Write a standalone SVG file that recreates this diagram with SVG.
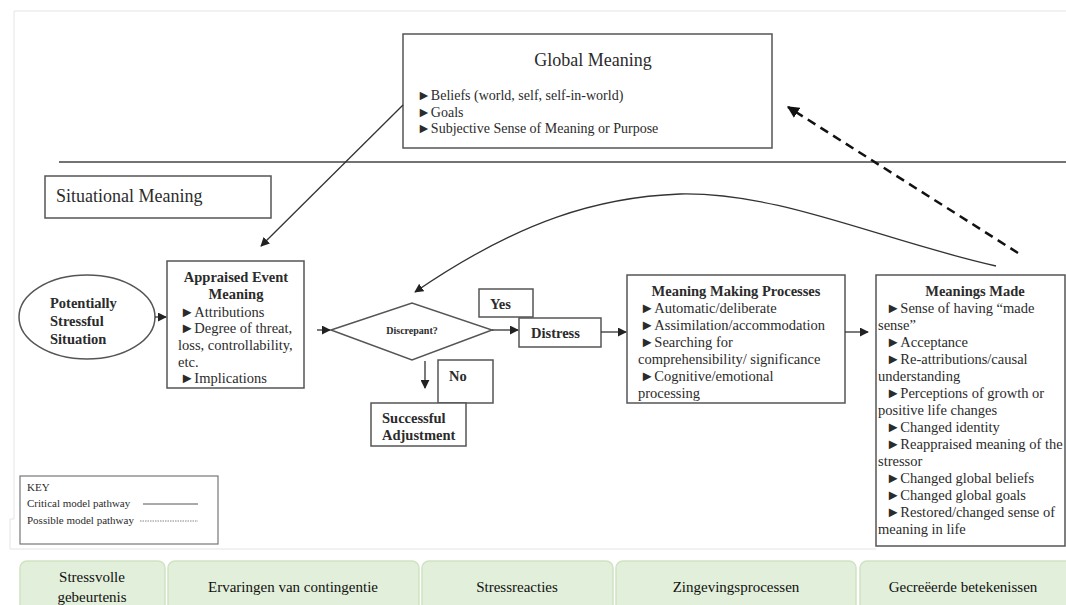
<svg xmlns="http://www.w3.org/2000/svg" width="1066" height="605" viewBox="0 0 1066 605">
<style>
text{font-family:"Liberation Serif","DejaVu Serif",serif;fill:#2b2b2b}
.box{fill:#fff;stroke:#555;stroke-width:1.5}
.b{font-weight:bold}
.t15{font-size:14.5px}
.t14{font-size:14px}
.ln{stroke:#333;stroke-width:1.3;fill:none}
.grn{fill:#e2efda;stroke:#cfe3c2;stroke-width:1.5}
.g{font-size:15px;text-anchor:middle;fill:#111}
.faint{stroke:#e4e4e4;stroke-width:1;fill:none}
.k{font-size:11px}
</style>
<defs>
<marker id="ah" viewBox="0 0 10 10" refX="9" refY="5" markerWidth="9" markerHeight="9" markerUnits="userSpaceOnUse" orient="auto">
<path d="M0,0 L10,5 L0,10 z" fill="#222"/>
</marker>
<marker id="ahd" viewBox="0 0 10 10" refX="9" refY="5" markerWidth="12" markerHeight="12" markerUnits="userSpaceOnUse" orient="auto">
<path d="M0,0 L10,5 L0,10 z" fill="#111"/>
</marker>
</defs>
<rect width="1066" height="605" fill="#fff"/>
<path class="faint" d="M14,11 H1066 M14,11 V519 H10 V549 H876"/>
<line x1="59" y1="162" x2="1066" y2="162" stroke="#444" stroke-width="1.3"/>

<g id="global-meaning">
<rect class="box" x="403" y="34" width="369" height="114"/>
<text x="593" y="66" font-size="18" text-anchor="middle">Global Meaning</text>
<text x="417" y="100" class="t14">►Beliefs (world, self, self-in-world)</text>
<text x="417" y="117" class="t14">►Goals</text>
<text x="417" y="133" class="t14">►Subjective Sense of Meaning or Purpose</text>
</g>

<g id="situational-meaning">
<rect class="box" x="45" y="176" width="226" height="42"/>
<text x="56" y="202" font-size="18">Situational Meaning</text>
</g>

<g id="stressful-situation">
<ellipse class="box" cx="87" cy="317" rx="68" ry="42"/>
<text class="b t15" x="50" y="308">Potentially</text>
<text class="b t15" x="50" y="326">Stressful</text>
<text class="b t15" x="50" y="344">Situation</text>
</g>

<g id="appraised-event-meaning">
<rect class="box" x="167" y="261" width="137" height="127"/>
<text class="b t15" x="236" y="282" text-anchor="middle">Appraised Event</text>
<text class="b t15" x="236" y="299" text-anchor="middle">Meaning</text>
<text class="t15" x="180" y="317">►Attributions</text>
<text class="t15" x="180" y="333">►Degree of threat,</text>
<text class="t15" x="178" y="350">loss, controllability,</text>
<text class="t15" x="178" y="367">etc.</text>
<text class="t15" x="180" y="383">►Implications</text>
</g>

<g id="discrepant">
<polygon class="box" points="331,330 412,303 492,330 412,360"/>
<text class="b" x="412" y="334" font-size="10" text-anchor="middle">Discrepant?</text>
</g>

<g id="yes">
<rect class="box" x="479" y="289" width="54" height="28"/>
<text class="b t15" x="490" y="309">Yes</text>
</g>

<g id="distress">
<rect class="box" x="519" y="318" width="82" height="29"/>
<text class="b t15" x="531" y="338">Distress</text>
</g>

<g id="no">
<rect class="box" x="438" y="360" width="55" height="43"/>
<text class="b t15" x="449" y="381">No</text>
</g>

<g id="successful-adjustment">
<rect class="box" x="371" y="403" width="95" height="43"/>
<text class="b t15" x="382" y="423">Successful</text>
<text class="b t15" x="382" y="440">Adjustment</text>
</g>

<g id="meaning-making-processes">
<rect class="box" x="627" y="275" width="218" height="128"/>
<text class="b t15" x="736" y="296" text-anchor="middle">Meaning Making Processes</text>
<text class="t15" x="640" y="313">►Automatic/deliberate</text>
<text class="t15" x="640" y="330">►Assimilation/accommodation</text>
<text class="t15" x="640" y="347">►Searching for</text>
<text class="t15" x="638" y="364">comprehensibility/ significance</text>
<text class="t15" x="640" y="381">►Cognitive/emotional</text>
<text class="t15" x="638" y="398">processing</text>
</g>

<g id="meanings-made">
<rect class="box" x="876" y="275" width="189" height="271"/>
<text class="b t15" x="975" y="296" text-anchor="middle">Meanings Made</text>
<text class="t15" x="886" y="313">►Sense of having “made</text>
<text class="t15" x="878" y="330">sense”</text>
<text class="t15" x="886" y="347">►Acceptance</text>
<text class="t15" x="886" y="364">►Re-attributions/causal</text>
<text class="t15" x="878" y="381">understanding</text>
<text class="t15" x="886" y="398">►Perceptions of growth or</text>
<text class="t15" x="878" y="415">positive life changes</text>
<text class="t15" x="886" y="432">►Changed identity</text>
<text class="t15" x="886" y="449">►Reappraised meaning of the</text>
<text class="t15" x="878" y="466">stressor</text>
<text class="t15" x="886" y="483">►Changed global beliefs</text>
<text class="t15" x="886" y="500">►Changed global goals</text>
<text class="t15" x="886" y="517">►Restored/changed sense of</text>
<text class="t15" x="878" y="534">meaning in life</text>
</g>

<g id="key">
<rect x="20" y="476" width="198" height="68" fill="#fff" stroke="#777" stroke-width="1.2"/>
<text x="27" y="491" class="k">KEY</text>
<text x="27" y="507" class="k">Critical model pathway</text>
<text x="27" y="524" class="k">Possible model pathway</text>
<line x1="143" y1="504" x2="198" y2="504" stroke="#555" stroke-width="1"/>
<line x1="140" y1="521" x2="198" y2="521" stroke="#666" stroke-width="0.8" stroke-dasharray="1.5,1"/>
</g>

<g id="connectors">
<line class="ln" x1="403" y1="105" x2="261" y2="246" marker-end="url(#ah)"/>
<line class="ln" x1="155" y1="317" x2="166" y2="317" marker-end="url(#ah)"/>
<line class="ln" x1="317" y1="330" x2="330" y2="330" marker-end="url(#ah)"/>
<line class="ln" x1="492" y1="330" x2="518" y2="330" marker-end="url(#ah)"/>
<line class="ln" x1="601" y1="332" x2="626" y2="332" marker-end="url(#ah)"/>
<line class="ln" x1="845" y1="332" x2="868" y2="332" marker-end="url(#ah)"/>
<line class="ln" x1="425" y1="361" x2="425" y2="388" marker-end="url(#ah)"/>
<path class="ln" d="M996,266 C880,240 780,192 680,194 C600,197 520,220 415,292" marker-end="url(#ah)"/>
<line x1="1018" y1="253" x2="788" y2="107" stroke="#111" stroke-width="2.5" stroke-dasharray="9,6" marker-end="url(#ahd)"/>
</g>

<g id="stage-bar">
<rect class="grn" x="20" y="561" width="145" height="52" rx="7"/>
<rect class="grn" x="168" y="561" width="251" height="52" rx="7"/>
<rect class="grn" x="422" y="561" width="191" height="52" rx="7"/>
<rect class="grn" x="616" y="561" width="240" height="52" rx="7"/>
<rect class="grn" x="860" y="561" width="215" height="52" rx="7"/>
<text class="g" x="92" y="582">Stressvolle</text>
<text class="g" x="92" y="602">gebeurtenis</text>
<text class="g" x="293" y="592">Ervaringen van contingentie</text>
<text class="g" x="517" y="592">Stressreacties</text>
<text class="g" x="736" y="592">Zingevingsprocessen</text>
<text class="g" x="963" y="592">Gecreëerde betekenissen</text>
</g>
</svg>
